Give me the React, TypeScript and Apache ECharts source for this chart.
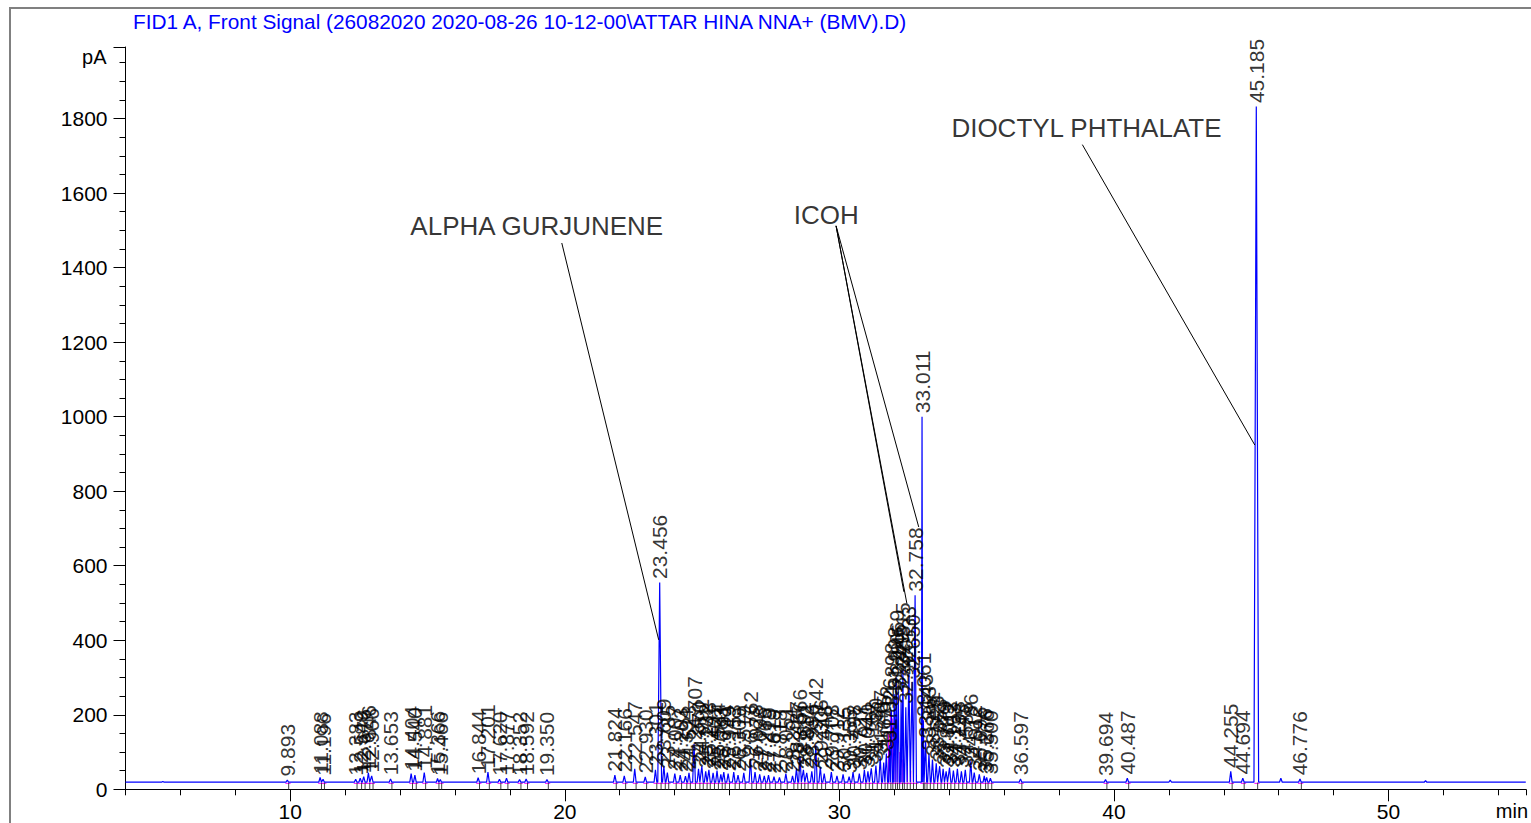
import React, { useEffect, useRef } from "react";
import * as echarts from "echarts";

const TITLE = "FID1 A, Front Signal (26082020 2020-08-26 10-12-00\\ATTAR HINA NNA+ (BMV).D)";
const BASE = 19;

const peakRT = [9.893, 11.088, 11.196, 12.383, 12.549, 12.676, 12.846, 12.966, 13.653, 14.404, 14.54, 14.881, 15.366, 15.466, 16.844, 17.201, 17.62, 17.877, 18.352, 18.592, 19.35, 21.824, 22.166, 22.547, 22.93, 23.301, 23.456, 23.609, 23.735, 24.007, 24.203, 24.394, 24.523, 24.707, 24.87, 24.992, 25.132, 25.248, 25.401, 25.544, 25.683, 25.791, 25.949, 26.153, 26.309, 26.519, 26.762, 26.928, 27.098, 27.265, 27.419, 27.619, 27.818, 28.051, 28.294, 28.437, 28.566, 28.691, 28.812, 28.996, 29.142, 29.306, 29.448, 29.708, 29.912, 30.135, 30.355, 30.498, 30.727, 30.911, 31.04, 31.163, 31.33, 31.487, 31.615, 31.712, 31.826, 31.898, 31.998, 32.069, 32.145, 32.249, 32.315, 32.42, 32.533, 32.65, 32.758, 33.011, 33.061, 33.143, 33.263, 33.391, 33.528, 33.653, 33.779, 33.889, 34.012, 34.153, 34.298, 34.445, 34.586, 34.786, 34.912, 35.096, 35.276, 35.366, 35.5, 36.597, 39.694, 40.487, 44.255, 44.694, 45.185, 46.776];
const peakHeight = [25, 32, 27, 27, 30, 34, 44, 36, 28, 42, 38, 45, 29, 26, 31, 46, 27, 30, 26, 28, 26, 38, 36, 55, 33, 52, 555, 62, 45, 42, 38, 35, 44, 122, 55, 62, 48, 52, 44, 50, 40, 46, 42, 46, 38, 44, 82, 46, 40, 36, 38, 34, 32, 42, 36, 56, 88, 52, 44, 48, 118, 60, 42, 46, 36, 40, 34, 46, 42, 52, 48, 56, 64, 86, 72, 96, 118, 212, 255, 300, 262, 240, 320, 220, 310, 288, 521, 1000, 185, 128, 95, 80, 70, 62, 55, 48, 58, 50, 55, 48, 52, 75, 45, 40, 36, 32, 30, 28, 26, 30, 48, 30, 1832, 28];

const bumpRT = [5.36, 42.05, 46.08, 51.35];
const bumpHeight = [21, 25, 30, 23];

const dropRT = [31.79, 31.86, 31.94, 32.03, 32.11, 32.2, 32.29, 32.37, 32.48, 32.6];
const dropHeight = [150, 205, 190, 140, 125, 100, 80, 70, 60, 50];

const xLabelValues = [10, 20, 30, 40, 50];
const yLabelValues = [0, 200, 400, 600, 800, 1000, 1200, 1400, 1600, 1800];
const X_MIN = 4;
const X_MAX = 55;
const Y_MAX = 1992;

const annotationTexts = ["ALPHA GURJUNENE", "ICOH", "DIOCTYL PHTHALATE"];
const annotationPos = [[18.98, 1512], [29.52, 1541], [39.0, 1775]];
const pointerLines = [
  [[19.89, 1466], [23.42, 401]],
  [[29.88, 1512], [32.89, 704]],
  [[29.88, 1512], [32.35, 530]],
  [[29.88, 1512], [32.46, 498]],
  [[38.85, 1730], [45.13, 924]],
];

const FONT = "Liberation Sans, Arial, sans-serif";

function buildTrace() {
  const all = peakRT
    .map((t, i) => [t, peakHeight[i]])
    .concat(bumpRT.map((t, i) => [t, bumpHeight[i]]))
    .sort((a, b) => a[0] - b[0]);
  const pts: number[][] = [[X_MIN, BASE]];
  for (let i = 0; i < all.length; i++) {
    const [t, h] = all[i];
    const gp = i > 0 ? t - all[i - 1][0] : 1;
    const gn = i < all.length - 1 ? all[i + 1][0] - t : 1;
    const w = Math.min(h > 400 ? 0.085 : 0.05, gp * 0.45, gn * 0.45);
    pts.push([t - w, BASE], [t, h], [t + w, BASE]);
  }
  pts.push([X_MAX, BASE]);
  return pts;
}

function vline(color: string) {
  return (params: any, api: any) => {
    const p0 = api.coord([api.value(0), api.value(1)]);
    const p1 = api.coord([api.value(0), api.value(2)]);
    return {
      type: "line",
      shape: { x1: p0[0], y1: p0[1], x2: p1[0], y2: p1[1] },
      style: { stroke: color, lineWidth: 1 },
    };
  };
}

function hline(color: string) {
  return (params: any, api: any) => {
    const p0 = api.coord([api.value(0), api.value(2)]);
    const p1 = api.coord([api.value(1), api.value(2)]);
    return {
      type: "line",
      shape: { x1: p0[0], y1: p0[1], x2: p1[0], y2: p1[1] },
      style: { stroke: color, lineWidth: 1 },
    };
  };
}

export default function App() {
  const ref = useRef<HTMLDivElement>(null);
  useEffect(() => {
    if (!ref.current) return;
    const chart = echarts.init(ref.current, null, { renderer: "svg" });
    const yTicks = yLabelValues.concat([Y_MAX]);
    const option: any = {
      animation: false,
      backgroundColor: "#ffffff",
      title: {
        text: TITLE,
        left: 133,
        top: 11,
        padding: 0,
        textStyle: { color: "#0000ff", fontSize: 20.8, fontWeight: "normal", fontFamily: FONT },
      },
      graphic: [
        {
          type: "rect",
          silent: true,
          z: -10,
          shape: { x: 10, y: 8, width: 1600, height: 900 },
          style: { fill: "none", stroke: "#808080", lineWidth: 2 },
        },
      ],
      grid: { left: 125.5, right: 1.4, top: 47, bottom: 33.7, containLabel: false },
      xAxis: [
        {
          type: "value",
          min: X_MIN,
          max: X_MAX,
          position: "bottom",
          name: "min",
          nameLocation: "end",
          nameGap: -30,
          nameTextStyle: { color: "#000", fontSize: 20, fontFamily: FONT, align: "left", verticalAlign: "top", padding: [12, 0, 0, 0] },
          axisLine: { show: true, onZero: false, lineStyle: { color: "#000", width: 1 } },
          axisTick: { show: true, customValues: xLabelValues, length: 12, lineStyle: { color: "#000" } },
          axisLabel: { show: true, customValues: xLabelValues, margin: 12, fontSize: 21, fontFamily: FONT, color: "#000", formatter: (v: number) => String(v) },
          splitLine: { show: false },
        },
        {
          type: "value",
          min: X_MIN,
          max: X_MAX,
          interval: 2,
          position: "bottom",
          axisLine: { show: false, onZero: false },
          axisTick: { show: true, length: 6, lineStyle: { color: "#000" } },
          axisLabel: { show: false },
          splitLine: { show: false },
        },
      ],
      yAxis: [
        {
          type: "value",
          min: 0,
          max: Y_MAX,
          position: "left",
          name: "pA",
          nameLocation: "end",
          nameGap: -10,
          nameTextStyle: { color: "#000", fontSize: 20, fontFamily: FONT, align: "right", verticalAlign: "middle", padding: [0, 19, 0, 0] },
          axisLine: { show: true, onZero: false, lineStyle: { color: "#000", width: 1 } },
          axisTick: { show: true, customValues: yTicks, length: 12, lineStyle: { color: "#000" } },
          axisLabel: { show: true, customValues: yLabelValues, margin: 18, fontSize: 21, fontFamily: FONT, color: "#000", formatter: (v: number) => String(v) },
          splitLine: { show: false },
        },
        {
          type: "value",
          min: 0,
          max: Y_MAX,
          interval: 50,
          position: "left",
          axisLine: { show: false, onZero: false },
          axisTick: { show: true, length: 6, lineStyle: { color: "#000" } },
          axisLabel: { show: false },
          splitLine: { show: false },
        },
      ],
      series: [
        {
          type: "custom",
          name: "integration baseline",
          silent: true,
          z: 1,
          renderItem: hline("#ff00ff"),
          encode: { x: [0, 1], y: 2 },
          data: peakRT.map((t) => [t - 0.07, t + 0.12, BASE - 3]),
        },
        {
          type: "custom",
          name: "drops",
          silent: true,
          z: 2,
          renderItem: vline("#ff00ff"),
          encode: { x: 0, y: [1, 2] },
          data: dropRT.map((t, i) => [t, BASE, dropHeight[i]]),
        },
        {
          type: "custom",
          name: "ticks",
          silent: true,
          z: 2,
          renderItem: vline("#404040"),
          encode: { x: 0, y: [1, 2] },
          data: peakRT.map((t) => [t + 0.05, BASE - 1, 0]),
        },
        {
          type: "line",
          name: "FID1 A",
          silent: true,
          z: 3,
          symbol: "none",
          lineStyle: { color: "#0000ff", width: 1.2 },
          data: buildTrace(),
        },
        {
          type: "scatter",
          name: "peak labels",
          silent: true,
          z: 5,
          symbolSize: 1,
          itemStyle: { color: "rgba(0,0,0,0)" },
          label: {
            show: true,
            formatter: "{b}",
            rotate: 90,
            position: "top",
            distance: 3,
            align: "left",
            verticalAlign: "middle",
            fontSize: 21,
            fontFamily: FONT,
            color: "#000",
          },
          data: peakRT.map((t, i) => ({ value: [t, peakHeight[i]], name: t.toFixed(3) })),
        },
        {
          type: "scatter",
          name: "annotations",
          silent: true,
          z: 6,
          symbolSize: 1,
          itemStyle: { color: "rgba(0,0,0,0)" },
          label: {
            show: true,
            formatter: "{b}",
            position: "inside",
            fontSize: 26,
            fontFamily: FONT,
            color: "#000",
          },
          data: annotationTexts.map((s, i) => ({ value: annotationPos[i], name: s })),
          markLine: {
            silent: true,
            animation: false,
            symbol: ["none", "none"],
            label: { show: false },
            lineStyle: { color: "#000", width: 1, type: "solid" },
            emphasis: { disabled: true },
            data: pointerLines.map((l) => [{ coord: l[0] }, { coord: l[1] }]),
          },
        },
      ],
    };
    chart.setOption(option);
    return () => chart.dispose();
  }, []);
  return (
    <div
      ref={ref}
      style={{ position: "fixed", left: 0, top: 0, width: 1531, height: 823, background: "#fff" }}
    />
  );
}
